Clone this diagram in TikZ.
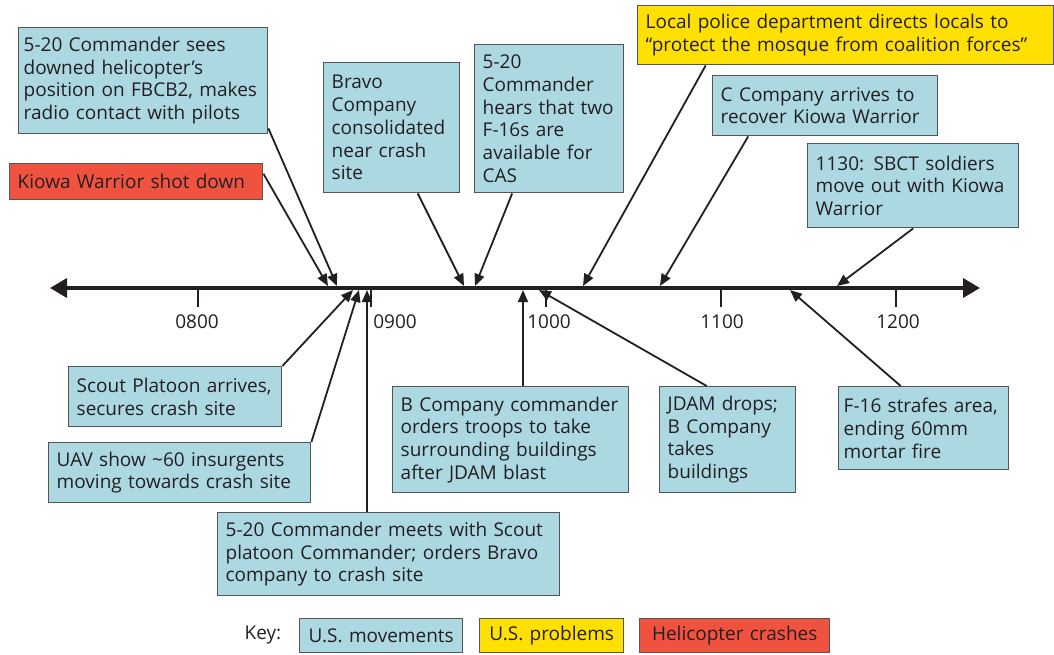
\documentclass[tikz,border=0pt]{standalone}
\usepackage{fontspec}
\setmainfont{Open Sans}
\usetikzlibrary{arrows.meta}

\definecolor{usblue}{RGB}{172,216,226}
\definecolor{usyellow}{RGB}{255,224,0}
\definecolor{helired}{RGB}{239,83,64}
\definecolor{boxedge}{RGB}{85,85,85}
\definecolor{inkgray}{RGB}{35,31,32}

\tikzset{
  event/.style={draw=boxedge, line width=1.4pt, anchor=north west, align=left,
    inner xsep=8pt, inner ysep=4pt, text=inkgray},
  movement/.style={event, fill=usblue},
  problem/.style={event, fill=usyellow},
  crash/.style={event, fill=helired},
  pointer/.style={-{Triangle[length=12pt,width=10pt]}, line width=1.8pt, draw=inkgray},
}

\begin{document}
\begin{tikzpicture}[x=1pt, y=-1pt, font=\fontsize{19}{22.7}\selectfont]

\useasboundingbox (0,0) rectangle (1054,654);

% Draw the time axis
\coordinate (axis-w) at (50,288);
\coordinate (axis-e) at (980,288);
\draw[{Triangle[length=17pt,width=19pt]}-{Triangle[length=17pt,width=19pt]}, line width=3.6pt, inkgray] (axis-w) -- (axis-e);

% Hour ticks and labels
\foreach \xx/\lx/\hr in {198/197/0800, 371/395/0900, 546/549/1000, 721/722/1100, 896/898/1200}{
  \draw[line width=1.3pt, inkgray] (\xx,290) -- (\xx,307);
  \node[text=inkgray] (hour-\hr) at (\lx,322) {\hr};
}

% Points on the axis where the events land
\coordinate (tip-shot) at (328,286);
\coordinate (tip-sees) at (337,286);
\coordinate (tip-bravo) at (464,286);
\coordinate (tip-hears) at (475,286);
\coordinate (tip-police) at (583,286);
\coordinate (tip-ccomp) at (660,286);
\coordinate (tip-sbct) at (837,286);
\coordinate (tip-scout) at (353,290);
\coordinate (tip-uav) at (359,290);
\coordinate (tip-meet) at (367,290);
\coordinate (tip-order) at (523,290);
\coordinate (tip-jdam) at (539,290);
\coordinate (tip-strafe) at (790,290);

% Events above the axis
\node[movement, inner xsep=5pt, text width=239pt, minimum height=106pt] (sees) at (18,27) {5-20 Commander sees\\downed helicopter’s\\position on FBCB2, makes\\radio contact with pilots};
\node[crash, text width=237pt, minimum height=36pt] (shot) at (9,163) {Kiowa Warrior shot down};
\node[movement, text width=120pt, minimum height=130pt] (bravo) at (323,62) {Bravo\\Company\\consolidated\\near crash\\site};
\node[movement, text width=133pt, minimum height=148pt] (hears) at (474,44) {5-20\\Commander\\hears that two\\F-16s are\\available for\\CAS};
\node[problem, text width=400pt, minimum height=59pt] (police) at (637,5) {Local police department directs locals to\\“protect the mosque from coalition forces”};
\node[movement, text width=209pt, minimum height=60pt] (ccomp) at (712,75) {C Company arrives to\\recover Kiowa Warrior};
\node[movement, text width=195pt, minimum height=84pt] (sbct) at (807,143) {1130: SBCT soldiers\\move out with Kiowa\\Warrior};

% Events below the axis
\node[movement, text width=197pt, minimum height=60pt] (scout) at (68,366) {Scout Platoon arrives,\\secures crash site};
\node[movement, text width=246pt, minimum height=60pt] (uav) at (48,442) {UAV show \textasciitilde60 insurgents\\moving towards crash site};
\node[movement, text width=326pt, minimum height=83pt] (meet) at (217,512) {5-20 Commander meets with Scout\\platoon Commander; orders Bravo\\company to crash site};
\node[movement, text width=220pt, minimum height=106pt] (order) at (392,386) {B Company commander\\orders troops to take\\surrounding buildings\\after JDAM blast};
\node[movement, text width=120pt, minimum height=106pt] (jdam) at (659,386) {JDAM drops;\\B Company\\takes\\buildings};
\node[movement, inner xsep=5pt, text width=160pt, minimum height=83pt] (strafe) at (838,386) {F-16 strafes area,\\ending 60mm\\mortar fire};

% Arrows to the axis
\draw[pointer] ([yshift=8pt]shot.east) -- (tip-shot);
\draw[pointer] ([yshift=6pt]sees.south east) -- (tip-sees);
\draw[pointer] ([xshift=26pt]bravo.south) -- (tip-bravo);
\draw[pointer] ([xshift=-37pt]hears.south) -- (tip-hears);
\draw[pointer] ([xshift=-140pt]police.south) -- (tip-police);
\draw[pointer] ([xshift=-77pt]ccomp.south) -- (tip-ccomp);
\draw[pointer] (sbct.south) -- (tip-sbct);
\draw[pointer] (scout.north east) -- (tip-scout);
\draw[pointer] (uav.north east) -- (tip-uav);
\draw[pointer] (meet.north -| tip-meet) -- (tip-meet);
\draw[pointer] (order.north -| tip-order) -- (tip-order);
\draw[pointer] ([xshift=-21pt]jdam.north) -- (tip-jdam);
\draw[pointer] ([xshift=-23pt]strafe.north) -- (tip-strafe);

% Key
\node[text=inkgray] (key) at (263,635) {Key:};
\node[movement, align=center, text width=147pt, minimum height=34pt] (key-move) at (299,618) {U.S. movements};
\node[problem, align=center, text width=128pt, minimum height=34pt] (key-prob) at (479,618) {U.S. problems};
\node[crash, align=center, text width=174pt, minimum height=34pt] (key-crash) at (639,618) {Helicopter crashes};

\end{tikzpicture}
\end{document}
